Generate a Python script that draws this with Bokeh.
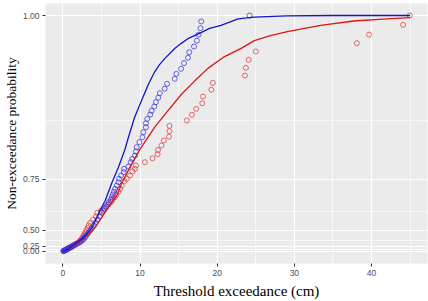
import numpy as np
from bokeh.plotting import figure
from bokeh.models import FixedTicker, CustomJSTickFormatter, Range1d
from bokeh.embed import file_html
from bokeh.resources import INLINE

# ---- data ----
blue_x = [0.07, 0.14, 0.22, 0.30, 0.40, 0.50, 0.60, 0.70, 0.80, 0.92, 1.05, 1.20, 1.35, 1.50,
          1.68, 1.90, 2.15, 2.35, 2.55, 2.70, 2.85, 3.00, 3.15, 3.35, 3.55, 3.75, 4.00, 4.25,
          4.50, 4.80, 5.05, 5.25, 5.44, 5.64, 5.84, 5.96, 6.22, 6.35, 6.47, 6.60,
          6.77, 6.99, 7.21, 7.28, 7.54, 7.89, 7.93, 8.49, 8.79, 9.00, 9.34, 9.47, 9.56, 9.91,
          10.30, 10.42, 10.76, 10.76, 10.94, 11.33, 11.49, 11.84, 12.05, 12.36, 12.56, 13.20,
          13.51, 14.49, 14.71, 15.32, 15.70, 16.22, 16.38, 16.99, 17.37, 17.58, 17.84, 17.93, 24.20]
blue_p = [0.02, 0.04, 0.06, 0.08, 0.10, 0.12, 0.14, 0.16, 0.18, 0.20, 0.22, 0.24, 0.26, 0.28,
          0.30, 0.32, 0.34, 0.36, 0.38, 0.40, 0.42, 0.44, 0.46, 0.48, 0.50, 0.52, 0.54, 0.56,
          0.58, 0.60, 0.62, 0.63, 0.64, 0.65, 0.66, 0.67, 0.68, 0.69, 0.70, 0.71,
          0.7197, 0.7305, 0.7407, 0.751, 0.760, 0.769, 0.7777, 0.7834, 0.794, 0.8017, 0.809, 0.8177, 0.8267, 0.8366,
          0.846, 0.855, 0.8637, 0.8704, 0.8775, 0.8843, 0.890, 0.8964, 0.9026, 0.909, 0.915, 0.921,
          0.9273, 0.9335, 0.9395, 0.9455, 0.952, 0.958, 0.964, 0.970, 0.976, 0.982, 0.9882, 0.9946, 1.0]

red_x = [0.07, 0.13, 0.20, 0.28, 0.35, 0.42, 0.50, 0.60, 0.70, 0.82, 0.95, 1.10, 1.25, 1.42,
         1.60, 1.80, 2.00, 2.15, 2.30, 2.42, 2.55, 2.68, 2.80, 2.92, 3.05, 3.20, 3.35, 3.55,
         3.90, 4.30, 4.45, 4.90, 5.30, 5.60, 5.90, 6.20, 6.45, 6.70, 6.95, 7.20,
         7.41, 7.63, 7.98, 8.28, 8.70, 9.01, 9.34, 9.47, 10.63, 11.62, 12.27, 12.33, 12.78, 13.08,
         13.75, 13.81, 13.81, 16.06, 16.73, 17.28, 18.06, 18.15, 19.24, 19.43, 23.59, 23.72,
         24.07, 25.00, 38.10, 39.68, 44.09, 44.95]
red_p = [0.02, 0.04, 0.06, 0.08, 0.10, 0.12, 0.14, 0.16, 0.18, 0.20, 0.22, 0.24, 0.26, 0.28,
         0.30, 0.32, 0.34, 0.36, 0.38, 0.40, 0.42, 0.44, 0.46, 0.48, 0.50, 0.52, 0.54, 0.56,
         0.58, 0.60, 0.62, 0.63, 0.64, 0.65, 0.66, 0.67, 0.68, 0.69, 0.70, 0.71,
         0.7197, 0.7305, 0.744, 0.751, 0.760, 0.771, 0.778, 0.786, 0.794, 0.803, 0.812, 0.821, 0.830, 0.840,
         0.847, 0.857, 0.866, 0.875, 0.884, 0.893, 0.901, 0.9105, 0.9196, 0.9285, 0.9375, 0.9467,
         0.9557, 0.9648, 0.9734, 0.982, 0.9914, 1.0]

blue_curve_x = [0.0, 0.8, 1.6, 2.5, 3.2, 3.8, 4.8, 5.5, 6.3, 7.2, 8.0, 8.5, 9.3, 10.2, 11.1, 11.9,
                12.5, 13.2, 14.5, 15.3, 16.2, 17.9, 19.0, 20.5, 22.7, 24.8, 29.0, 35.0, 45.0]
blue_curve_p = [0.0, 0.17, 0.311, 0.401, 0.468, 0.526, 0.632, 0.677, 0.736, 0.782, 0.820, 0.846,
                0.880, 0.905, 0.927, 0.942, 0.950, 0.957, 0.968, 0.973, 0.978, 0.984, 0.988,
                0.991, 0.997, 0.9985, 0.9997, 1.0, 1.0]

red_curve_x = [0.0, 0.8, 1.6, 2.5, 3.4, 4.2, 5.9, 7.0, 7.6, 8.7, 9.9, 11.9, 13.6, 15.4, 17.1, 18.8,
               20.9, 23.1, 24.8, 26.9, 29.1, 33.4, 37.7, 42.0, 45.0]
red_curve_p = [0.0, 0.16, 0.29, 0.39, 0.465, 0.526, 0.648, 0.696, 0.736, 0.782, 0.820, 0.864, 0.890,
               0.914, 0.931, 0.946, 0.959, 0.968, 0.976, 0.981, 0.985, 0.991, 0.995, 0.997, 0.998]

x_ticks = [0, 10, 20, 30, 40]
x_minor = [5, 15, 25, 35, 45]
y_ticks = [0.0, 0.25, 0.5, 0.75, 1.0]
y_minor = [0.125, 0.375, 0.625, 0.875]

# ---- probability scale (exponential stretch) ----
K = 4.65


def tr(p):
    return list((np.exp(K * np.asarray(p, dtype=float)) - 1.0) / (np.exp(K) - 1.0))


p = figure(width=428, height=301, output_backend="svg", toolbar_location=None,
           x_range=Range1d(-2.25, 47.25), y_range=Range1d(-0.052, 1.051),
           min_border_top=3, min_border_right=1, min_border_left=20, min_border_bottom=20)

p.background_fill_color = "#EBEBEB"
p.border_fill_color = "white"
p.outline_line_color = None

p.scatter(red_x, tr(red_p), marker="circle", size=5, fill_color=None,
          line_color="#E23A3A", line_alpha=0.75, line_width=1)
p.scatter(blue_x, tr(blue_p), marker="circle", size=5, fill_color=None,
          line_color="#3535E0", line_alpha=0.75, line_width=1)
p.line(red_curve_x, tr(red_curve_p), line_color="#E01515", line_width=1.3)
p.line(blue_curve_x, tr(blue_curve_p), line_color="#1515C8", line_width=1.3)

p.xaxis.ticker = FixedTicker(ticks=x_ticks, minor_ticks=x_minor)
p.yaxis.ticker = FixedTicker(ticks=tr(y_ticks), minor_ticks=tr(y_minor))
p.yaxis.formatter = CustomJSTickFormatter(
    code="const k=%r; const q=Math.log(1+tick*(Math.exp(k)-1))/k; return q.toFixed(2);" % K)

for ax in (p.xaxis, p.yaxis):
    ax.axis_line_color = None
    ax.major_tick_line_color = "#333333"
    ax.major_tick_in = 0
    ax.major_tick_out = 3
    ax.minor_tick_line_color = None
    ax.major_label_text_font = "Liberation Sans"
    ax.major_label_text_font_size = "8.5px"
    ax.major_label_text_color = "#4D4D4D"
    ax.major_label_standoff = 2
    ax.axis_label_text_font = "Liberation Serif"
    ax.axis_label_text_font_style = "normal"
    ax.axis_label_text_color = "black"

p.xaxis.axis_label = "Threshold exceedance (cm)"
p.xaxis.axis_label_text_font_size = "15px"
p.xaxis.axis_label_standoff = 4
p.yaxis.axis_label = "Non-exceedance probability"
p.yaxis.axis_label_text_font_size = "13.5px"
p.yaxis.axis_label_standoff = 1

for g in (p.xgrid, p.ygrid):
    g.grid_line_color = "white"
    g.grid_line_width = 1.2
    g.minor_grid_line_color = "white"
    g.minor_grid_line_width = 0.6

open("out.html", "w").write(file_html(p, INLINE))
